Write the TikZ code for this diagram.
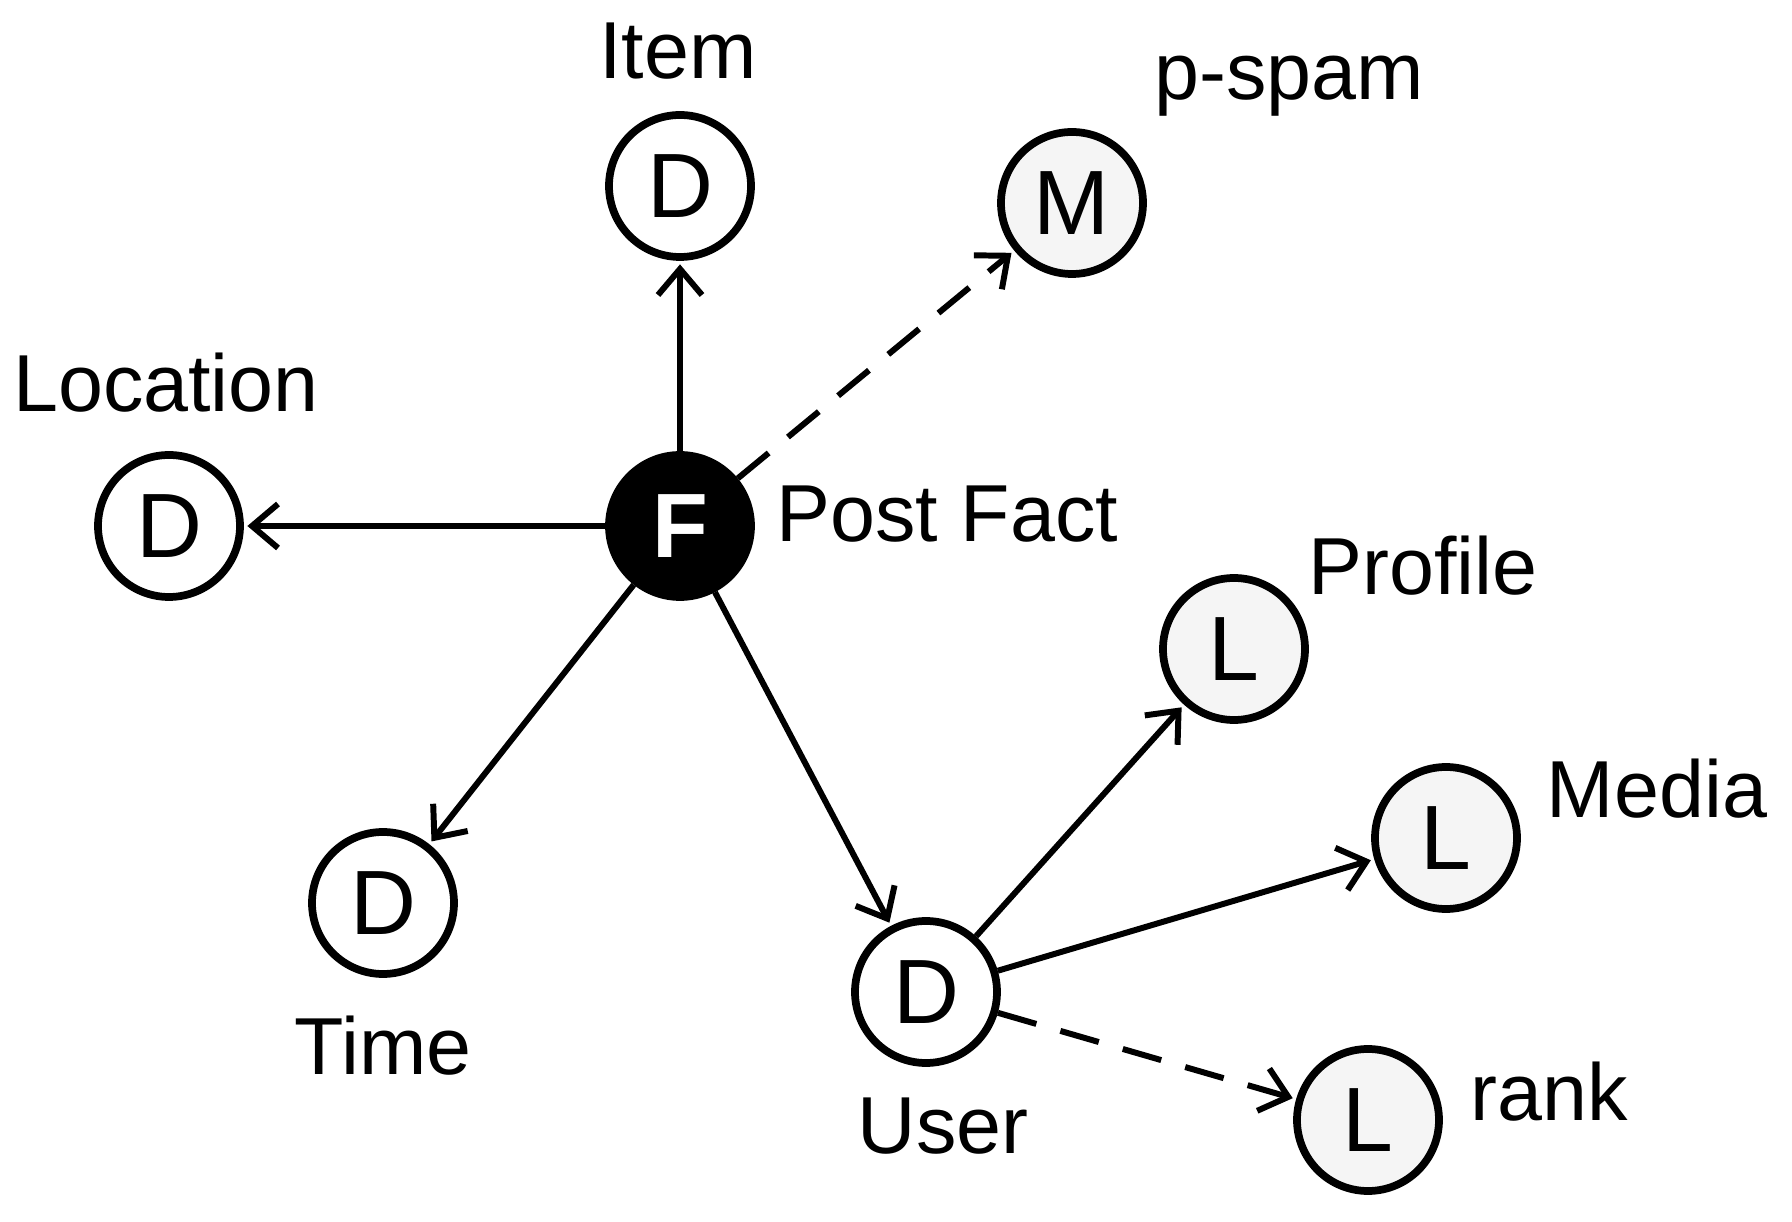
\documentclass[tikz,border=0pt]{standalone}
\usepackage{fontspec}
\setmainfont{Liberation Sans}
\usetikzlibrary{positioning, arrows.meta}

\begin{document}
\begin{tikzpicture}[>={Straight Barb[length=2.6mm,width=4.4mm]}, line width=1.7pt]
    \tikzset{
        ent/.style={draw, circle, line width=2.2pt, minimum size=14.2mm, inner sep=0pt, font=\fontsize{26}{28}\selectfont},
        dim/.style={ent, fill=white},
        lvl/.style={ent, fill=black!4},
        lbl/.style={font=\fontsize{23}{25}\selectfont},
        link/.style={->, shorten >=1pt},
        maybe/.style={link, dashed, dash pattern=on 4mm off 2.5mm}
    }
    \useasboundingbox (0,0) rectangle (17.92,-12.22);
    % Nodes
    \node (fact) [ent, fill=black, text=white, font=\fontsize{26}{28}\bfseries\selectfont] at (6.80,-5.26) {F}; % the fact
    \node (item) [dim] at (6.80,-1.86) {D};
    \node (spam) [lvl] at (10.72,-2.03) {M};
    \node (loc) [dim] at (1.69,-5.26) {D};
    \node (time) [dim] at (3.83,-9.03) {D};
    \node (user) [dim] at (9.26,-9.92) {D};
    \node (prof) [lvl] at (12.34,-6.49) {L};
    \node (media) [lvl] at (14.46,-8.38) {L};
    \node (rank) [lvl] at (13.68,-11.20) {L};

    % Labels
    \node (itemlbl) [lbl] at (6.78,-0.51) {Item};
    \node (spamlbl) [lbl] at (12.89,-0.86) {p-spam};
    \node (loclbl) [lbl] at (1.66,-3.83) {Location};
    \node (timelbl) [lbl] at (3.83,-10.46) {Time};
    \node (userlbl) [lbl] at (9.43,-11.26) {User};
    \node (factlbl) [lbl, anchor=west] at (7.62,-5.14) {Post Fact};
    \node (proflbl) [lbl] at (14.23,-5.66) {Profile};
    \node (medialbl) [lbl] at (16.57,-7.89) {Media};
    \node (ranklbl) [lbl] at (15.49,-10.92) {rank};

    % Arrows
    \draw[link] (fact) -- (item);
    \draw[maybe] (fact) -- (spam);
    \draw[link] (fact) -- (loc);
    \draw[link] (fact) -- (time);
    \draw[link] (fact) -- (user);
    \draw[link] (user) -- (prof);
    \draw[link] (user) -- (media);
    \draw[maybe] (user) -- (rank);
\end{tikzpicture}
\end{document}
